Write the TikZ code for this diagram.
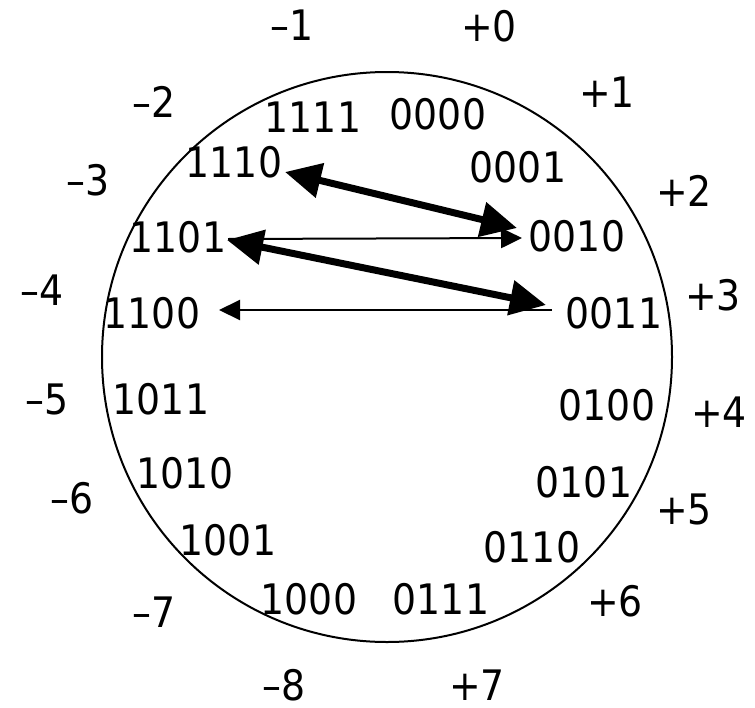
\documentclass[tikz,border=0pt]{standalone}
\usepackage{fontspec}
\setmainfont{DejaVu Sans Condensed}
\usetikzlibrary{arrows.meta,calc}
\tikzset{
  lbl/.style={inner sep=0pt, font=\fontsize{42}{50}\selectfont},
  ring/.style={draw, line width=2pt},
  thickarr/.style={line width=7pt, {Triangle[length=36pt,width=34pt]}-{Triangle[length=36pt,width=34pt]}},
  thinarr/.style={line width=2pt, -{Triangle[length=21pt,width=20pt]}}
}
\begin{document}
\begin{tikzpicture}[x=1pt,y=-1pt]
\useasboundingbox (0,0) rectangle (755,707);
\draw[ring] (387,357) circle (285);
% outer labels
\node[lbl] (m1) at (292,25) {–1};
\node[lbl] (m2) at (154,102) {–2};
\node[lbl] (m3) at (88,180) {–3};
\node[lbl] (m4) at (42,290) {–4};
\node[lbl] (m5) at (47,399) {–5};
\node[lbl] (m6) at (72,498) {–6};
\node[lbl] (m7) at (154,612) {–7};
\node[lbl] (m8) at (284,685) {–8};
\node[lbl] (p0) at (489,26) {+0};
\node[lbl] (p1) at (607,92) {+1};
\node[lbl] (p2) at (684,191) {+2};
\node[lbl] (p3) at (713,295) {+3};
\node[lbl] (p4) at (719,412) {+4};
\node[lbl] (p5) at (684,509) {+5};
\node[lbl] (p6) at (615,601) {+6};
\node[lbl] (p7) at (477,685) {+7};
% inner labels
\node[lbl] (n1111) at (313,117) {1111};
\node[lbl] (n1110) at (234,162) {1110};
\node[lbl] (n1101) at (178,237) {1101};
\node[lbl] (n1100) at (152,313) {1100};
\node[lbl] (n1011) at (161,399) {1011};
\node[lbl] (n1010) at (185,473) {1010};
\node[lbl] (n1001) at (228,540) {1001};
\node[lbl] (n1000) at (309,599) {1000};
\node[lbl] (n0000) at (438,114) {0000};
\node[lbl] (n0001) at (518,167) {0001};
\node[lbl] (n0010) at (577,236) {0010};
\node[lbl] (n0011) at (614,313) {0011};
\node[lbl] (n0100) at (607,405) {0100};
\node[lbl] (n0101) at (584,482) {0101};
\node[lbl] (n0110) at (532,547) {0110};
\node[lbl] (n0111) at (441,599) {0111};
% connectors
\draw[thinarr] ($(n1101)+(50,2)$) -- ($(n0010)+(-55,2)$);
\draw[thinarr] ($(n0011)+(-62,-3)$) -- ($(n1100)+(67,-3)$);
\draw[thickarr] ($(n1110)+(51,10)$) -- ($(n0010)+(-60,-8)$);
\draw[thickarr] ($(n1101)+(49,3)$) -- ($(n0011)+(-68,-8)$);
\end{tikzpicture}
\end{document}
